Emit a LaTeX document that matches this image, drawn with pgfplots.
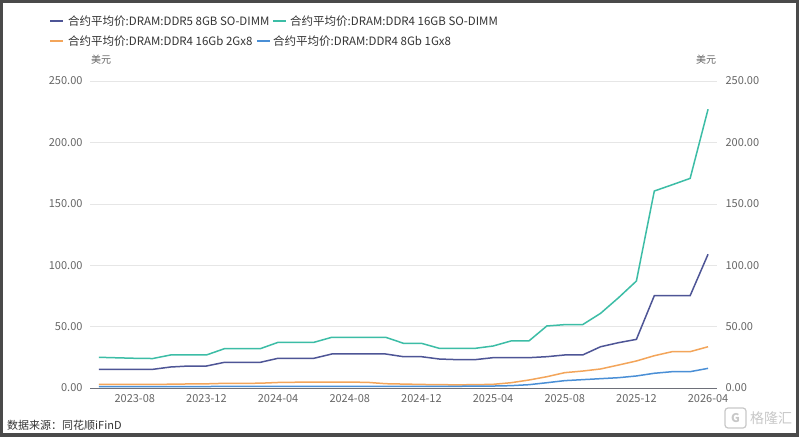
\documentclass[border=0pt]{standalone}
\usepackage{pgfplots}
\pgfplotsset{compat=1.18}
\usepackage{pgfplotstable}
\usepackage{fontspec}
\setmainfont{Noto Sans CJK SC}

\definecolor{framegray}{HTML}{4A4A4A}
\definecolor{gridgray}{HTML}{E6E6E6}
\definecolor{axisgray}{HTML}{6E7079}
\definecolor{ticktext}{HTML}{666666}
\definecolor{legtext}{HTML}{333333}
\definecolor{cDDRfive}{HTML}{4E5596}
\definecolor{cSODIMM}{HTML}{3CBDA6}
\definecolor{cTwoG}{HTML}{F3A55A}
\definecolor{cOneG}{HTML}{4A8FD6}
\definecolor{logogray}{HTML}{C8C8C8}

% monthly contract prices, 2023-06 (idx 0) to 2026-04 (idx 34), USD
\pgfplotstableread{
idx ddr5so ddr4so ddr4two ddr4one
0  15.2 25.0 2.9 1.1
1  15.2 24.6 2.9 1.1
2  15.2 24.2 2.9 1.1
3  15.2 24.0 2.9 1.1
4  17.1 26.9 3.1 1.2
5  17.9 26.9 3.3 1.2
6  17.9 26.9 3.4 1.2
7  20.9 32.0 3.8 1.3
8  20.9 32.0 3.8 1.3
9  20.9 32.0 3.9 1.3
10 24.2 37.2 4.5 1.4
11 24.2 37.2 4.7 1.4
12 24.2 37.2 4.8 1.4
13 27.7 41.3 4.8 1.4
14 27.7 41.3 4.8 1.4
15 27.7 41.3 4.6 1.4
16 27.7 41.3 3.5 1.4
17 25.5 36.4 3.2 1.4
18 25.5 36.4 2.9 1.4
19 23.6 32.3 2.7 1.4
20 23.1 32.3 2.6 1.4
21 23.1 32.3 2.7 1.5
22 24.7 34.2 3.0 1.6
23 24.7 38.3 4.3 1.9
24 24.7 38.3 6.5 2.7
25 25.5 50.5 9.2 4.3
26 26.9 51.6 12.5 6.0
27 26.9 51.6 13.8 6.8
28 33.6 60.8 15.5 7.6
29 36.9 73.5 18.7 8.4
30 39.6 87.1 22.0 9.8
31 75.2 160.4 26.3 12.0
32 75.2 165.5 29.6 13.3
33 75.2 170.7 29.6 13.3
34 108.9 227.0 33.6 16.0
}\prices

\pgfplotsset{
  common/.style={
    at={(90pt,49pt)}, anchor=south west,
    scale only axis, width=627pt, height=307pt,
    xmin=-0.5, xmax=34.5, ymin=0, ymax=250,
    ytick={0,50,...,250},
    major tick length=0pt,
    tick style={draw=none},
    /pgf/number format/assume math mode=true,
    yticklabel style={font=\fontsize{11}{13}\selectfont, text=ticktext,
      /pgf/number format/fixed, /pgf/number format/fixed zerofill,
      /pgf/number format/precision=2},
  },
}

\begin{document}
\begin{tikzpicture}[x=1pt,y=1pt]
  \useasboundingbox (0,0) rectangle (799,437);
  % outer frame and white canvas
  \fill[framegray] (0,0) rectangle (799,437);
  \fill[white] (3,4.5) rectangle (796,434);

  % left axis with data
  \begin{axis}[common,
      axis x line*=bottom, axis y line*=left,
      x axis line style={draw=axisgray, line width=0.8pt, -},
      y axis line style={draw=none},
      ymajorgrids, grid style={draw=gridgray, line width=0.6pt},
      yticklabel style={xshift=-4pt},
      xtick={2,6,...,34},
      xticklabels={2023-08,2023-12,2024-04,2024-08,2024-12,2025-04,2025-08,2025-12,2026-04},
      xticklabel style={font=\fontsize{11}{13}\selectfont, text=ticktext, yshift=-3pt},
    ]
    \addplot[cTwoG, line width=1.5pt] table[x=idx, y=ddr4two] {\prices};
    \addplot[cOneG, line width=1.5pt] table[x=idx, y=ddr4one] {\prices};
    \addplot[cDDRfive, line width=1.5pt] table[x=idx, y=ddr5so] {\prices};
    \addplot[cSODIMM, line width=1.5pt] table[x=idx, y=ddr4so] {\prices};
  \end{axis}

  % right axis labels
  \begin{axis}[common,
      hide x axis,
      axis y line*=right,
      y axis line style={draw=none},
      yticklabel style={xshift=5pt},
    ]
    \addplot[draw=none] coordinates {(0,0)};
  \end{axis}

  % unit labels
  \node[font=\fontsize{10}{12}\selectfont, text=ticktext] at (101,377) {美元};
  \node[font=\fontsize{10}{12}\selectfont, text=ticktext] at (706,377) {美元};

  % legend
  \begin{scope}[font=\fontsize{11.5}{13}\selectfont, text=legtext]
    \draw[cDDRfive, line width=2pt] (50,416) -- (63,416);
    \node[anchor=west, inner sep=0pt] at (68,416) {合约平均价:DRAM:DDR5 8GB SO-DIMM};
    \draw[cSODIMM, line width=2pt] (273,416) -- (286,416);
    \node[anchor=west, inner sep=0pt] at (290,416) {合约平均价:DRAM:DDR4 16GB SO-DIMM};
    \draw[cTwoG, line width=2pt] (50,395.5) -- (63,395.5);
    \node[anchor=west, inner sep=0pt] at (68,395.5) {合约平均价:DRAM:DDR4 16Gb 2Gx8};
    \draw[cOneG, line width=2pt] (257,395.5) -- (270,395.5);
    \node[anchor=west, inner sep=0pt] at (273,395.5) {合约平均价:DRAM:DDR4 8Gb 1Gx8};
  \end{scope}

  % source note
  \node[anchor=west, inner sep=0pt, font=\fontsize{11}{13}\selectfont, text=legtext] at (7,12) {数据来源：同花顺iFinD};

  % watermark logo
  \draw[logogray, line width=1.2pt, rounded corners=3pt] (725,9) rectangle (746,29);
  \node[text=logogray, font=\bfseries\fontsize{12}{14}\selectfont] at (735.5,19) {G};
  \node[anchor=west, inner sep=0pt, text=logogray, font=\fontsize{14}{16}\selectfont] at (750,19) {格隆汇};
\end{tikzpicture}
\end{document}
